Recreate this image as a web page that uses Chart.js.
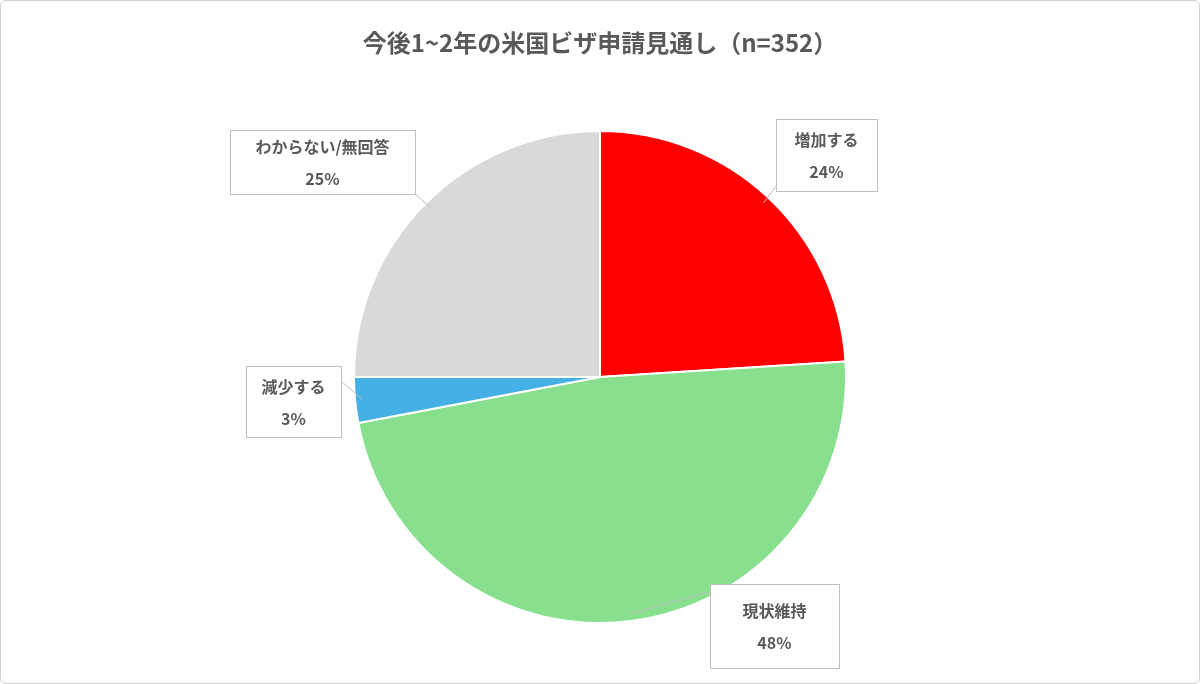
<!DOCTYPE html>
<html><head><meta charset="utf-8">
<script src="https://cdn.jsdelivr.net/npm/chart.js@4"></script>
<style>
html,body{margin:0;padding:0;background:#fff}
#wrap{position:absolute;left:0;top:0;width:1198px;height:682px;border:1px solid #d0d0d0;border-radius:6px}
</style></head><body>
<div id="wrap"><canvas id="c" width="1198" height="682"></canvas></div>
<script>
const chartTitle = '今後1~2年の米国ビザ申請見通し（n=352）';
const categories = ['増加する','現状維持','減少する','わからない/無回答'];
const values = [24,48,3,25];
const colors = ['#ff0000','#88e08f','#45b0e5','#d9d8db'];
// callout boxes [x,y,w,h] and pointer anchor on box
const boxes = [[775,118,101,72,[782,176]],[709,583,129,84,[712,590]],[245,365,95,71,[340,380]],[229,129,185,64,[414,193]]];
const FONT = '"Noto Sans CJK JP","Noto Sans",sans-serif';
const callouts = {
  id:'callouts',
  afterDraw(ch){
    const ctx=ch.ctx, meta=ch.getDatasetMeta(0);
    ctx.save();
    ctx.fillStyle='#595959';ctx.font='bold 24px '+FONT;ctx.textAlign='center';ctx.textBaseline='middle';
    ctx.fillText(chartTitle,599,42);
    const total=values.reduce((a,b)=>a+b,0);
    meta.data.forEach((arc,i)=>{
      const b=boxes[i];
      const mid=(arc.startAngle+arc.endAngle)/2;
      const r=arc.outerRadius*0.97;
      const px=arc.x+Math.cos(mid)*r, py=arc.y+Math.sin(mid)*r;
      ctx.strokeStyle='#bfbfbf';ctx.lineWidth=1;
      ctx.beginPath();ctx.moveTo(b[4][0],b[4][1]);ctx.lineTo(px,py);ctx.stroke();
      ctx.fillStyle='#fff';ctx.fillRect(b[0],b[1],b[2],b[3]);
      ctx.strokeRect(b[0]+0.5,b[1]+0.5,b[2],b[3]);
      ctx.fillStyle='#595959';ctx.font='bold 16px '+FONT;
      const cx=b[0]+b[2]/2;
      ctx.fillText(categories[i],cx,b[1]+b[3]/2-15);
      ctx.fillText(Math.round(values[i]/total*100)+'%',cx,b[1]+b[3]/2+17);
    });
    ctx.restore();
  }
};
new Chart(document.getElementById('c'),{
  type:'pie',
  data:{labels:categories,datasets:[{data:values,backgroundColor:colors,borderColor:'#ffffff',borderWidth:2}]},
  options:{responsive:false,animation:false,
    layout:{padding:{top:129,bottom:59,left:0,right:0}},
    plugins:{legend:{display:false},title:{display:false},tooltip:{enabled:false}}},
  plugins:[callouts]
});
</script></body></html>
